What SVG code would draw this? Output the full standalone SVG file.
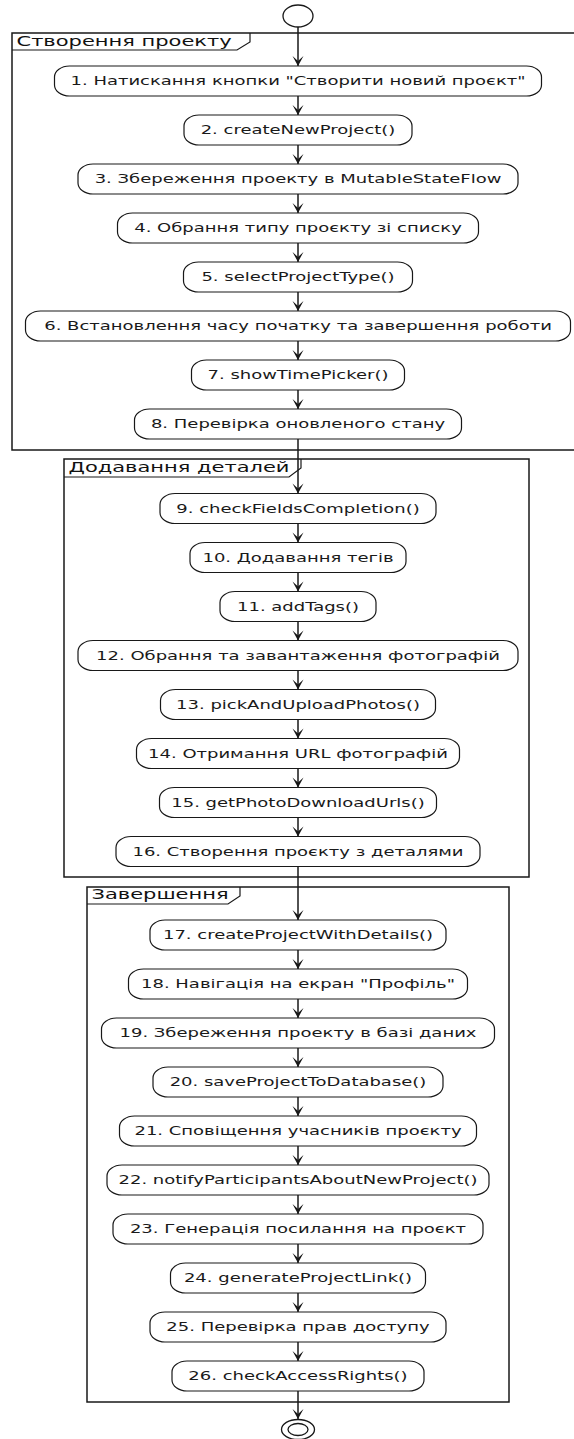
<svg xmlns="http://www.w3.org/2000/svg" width="574" height="1439" viewBox="0 0 574 1439">
  <style>
    .bg { fill: #ffffff; }
    .part { fill: none; stroke: #181818; stroke-width: 1.5; }
    .tab { fill: none; stroke: #181818; stroke-width: 1.2; }
    .ptitle { font-family: "DejaVu Sans", "Liberation Sans", sans-serif; font-size: 14px; fill: #111; }
    .act rect { fill: #ffffff; stroke: #181818; stroke-width: 1.2; }
    .act text { font-family: "DejaVu Sans", "Liberation Sans", sans-serif; font-size: 12px; fill: #1a1a1a; text-anchor: middle; }
    .flow line { stroke: #181818; stroke-width: 1.5; marker-end: url(#arrow); }
    .term { fill: #ffffff; stroke: #181818; stroke-width: 1.3; }
  </style>
  <defs>
    <marker id="arrow" markerUnits="userSpaceOnUse" viewBox="-11 -6 12 12" refX="0" refY="0" markerWidth="12" markerHeight="12" orient="auto">
      <path d="M0,0 L-10,-5.5 L-5,0 L-10,5.5 Z" fill="#181818"/>
    </marker>
  </defs>

  <rect class="bg" x="0" y="0" width="574" height="1439"/>

  <!-- partitions -->
  <g id="part-create">
    <rect class="part" x="12" y="33" width="566" height="417"/>
    <path class="tab" d="M12,50 H237 L250,42 V33"/>
    <text class="ptitle" transform="matrix(1.5 0 0 1 16.5 45.5)">Створення проекту</text>
  </g>
  <g id="part-details">
    <rect class="part" x="64" y="459" width="465" height="418"/>
    <path class="tab" d="M64,477 H289 L301,468 V459"/>
    <text class="ptitle" transform="matrix(1.5 0 0 1 68.5 472)">Додавання деталей</text>
  </g>
  <g id="part-finish">
    <rect class="part" x="87" y="887" width="422" height="515"/>
    <path class="tab" d="M87,904 H228 L240,896 V887"/>
    <text class="ptitle" transform="matrix(1.5 0 0 1 91.5 899)">Завершення</text>
  </g>

  <!-- connectors -->
  <g id="connectors" class="flow">
    <line x1="298" y1="27" x2="298" y2="66"/>
    <line x1="298" y1="96" x2="298" y2="115"/>
    <line x1="298" y1="145" x2="298" y2="164"/>
    <line x1="298" y1="194" x2="298" y2="213"/>
    <line x1="298" y1="243" x2="298" y2="262"/>
    <line x1="298" y1="292" x2="298" y2="311"/>
    <line x1="298" y1="341" x2="298" y2="360"/>
    <line x1="298" y1="390" x2="298" y2="409"/>
    <line x1="298" y1="439" x2="298" y2="493.5"/>
    <line x1="298" y1="523.5" x2="298" y2="542.5"/>
    <line x1="298" y1="572.5" x2="298" y2="591.5"/>
    <line x1="298" y1="621.5" x2="298" y2="640.5"/>
    <line x1="298" y1="670.5" x2="298" y2="689.5"/>
    <line x1="298" y1="719.5" x2="298" y2="738.5"/>
    <line x1="298" y1="768.5" x2="298" y2="787.5"/>
    <line x1="298" y1="817.5" x2="298" y2="836.5"/>
    <line x1="298" y1="866.5" x2="298" y2="920"/>
    <line x1="298" y1="950" x2="298" y2="969"/>
    <line x1="298" y1="999" x2="298" y2="1018"/>
    <line x1="298" y1="1048" x2="298" y2="1067"/>
    <line x1="298" y1="1097" x2="298" y2="1116"/>
    <line x1="298" y1="1146" x2="298" y2="1165"/>
    <line x1="298" y1="1195" x2="298" y2="1214"/>
    <line x1="298" y1="1244" x2="298" y2="1263"/>
    <line x1="298" y1="1293" x2="298" y2="1312"/>
    <line x1="298" y1="1342" x2="298" y2="1361"/>
    <line x1="298" y1="1391" x2="298" y2="1419"/>
  </g>

  <!-- start / end -->
  <g id="start">
    <ellipse class="term" cx="298" cy="16" rx="15" ry="11"/>
  </g>
  <g id="end">
    <ellipse class="term" cx="298" cy="1429.5" rx="16.5" ry="10"/>
    <ellipse class="term" cx="298" cy="1429.5" rx="10" ry="6"/>
  </g>

  <!-- activities -->
  <g id="a1" class="act"><rect x="54.5" y="66" width="487" height="30" rx="15" ry="11"/><text transform="matrix(1.5 0 0 1 298 85.4)">1. Натискання кнопки "Створити новий проєкт"</text></g>
  <g id="a2" class="act"><rect x="184" y="115" width="228" height="30" rx="15" ry="11"/><text transform="matrix(1.5 0 0 1 298 134.4)">2. createNewProject()</text></g>
  <g id="a3" class="act"><rect x="78" y="164" width="440" height="30" rx="15" ry="11"/><text transform="matrix(1.5 0 0 1 298 183.4)">3. Збереження проекту в MutableStateFlow</text></g>
  <g id="a4" class="act"><rect x="117.5" y="213" width="361" height="30" rx="15" ry="11"/><text transform="matrix(1.5 0 0 1 298 232.4)">4. Обрання типу проєкту зі списку</text></g>
  <g id="a5" class="act"><rect x="183.5" y="262" width="229" height="30" rx="15" ry="11"/><text transform="matrix(1.5 0 0 1 298 281.4)">5. selectProjectType()</text></g>
  <g id="a6" class="act"><rect x="25.5" y="311" width="545" height="30" rx="15" ry="11"/><text transform="matrix(1.5 0 0 1 298 330.4)">6. Встановлення часу початку та завершення роботи</text></g>
  <g id="a7" class="act"><rect x="191.5" y="360" width="213" height="30" rx="15" ry="11"/><text transform="matrix(1.5 0 0 1 298 379.4)">7. showTimePicker()</text></g>
  <g id="a8" class="act"><rect x="134.5" y="409" width="327" height="30" rx="15" ry="11"/><text transform="matrix(1.5 0 0 1 298 428.4)">8. Перевірка оновленого стану</text></g>

  <g id="a9" class="act"><rect x="160" y="493.5" width="276" height="30" rx="15" ry="11"/><text transform="matrix(1.5 0 0 1 298 512.9)">9. checkFieldsCompletion()</text></g>
  <g id="a10" class="act"><rect x="190" y="542.5" width="216" height="30" rx="15" ry="11"/><text transform="matrix(1.5 0 0 1 298 561.9)">10. Додавання тегів</text></g>
  <g id="a11" class="act"><rect x="220" y="591.5" width="156" height="30" rx="15" ry="11"/><text transform="matrix(1.5 0 0 1 298 610.9)">11. addTags()</text></g>
  <g id="a12" class="act"><rect x="78" y="640.5" width="440" height="30" rx="15" ry="11"/><text transform="matrix(1.5 0 0 1 298 659.9)">12. Обрання та завантаження фотографій</text></g>
  <g id="a13" class="act"><rect x="160.5" y="689.5" width="275" height="30" rx="15" ry="11"/><text transform="matrix(1.5 0 0 1 298 708.9)">13. pickAndUploadPhotos()</text></g>
  <g id="a14" class="act"><rect x="136.5" y="738.5" width="323" height="30" rx="15" ry="11"/><text transform="matrix(1.5 0 0 1 298 757.9)">14. Отримання URL фотографій</text></g>
  <g id="a15" class="act"><rect x="159.5" y="787.5" width="277" height="30" rx="15" ry="11"/><text transform="matrix(1.5 0 0 1 298 806.9)">15. getPhotoDownloadUrls()</text></g>
  <g id="a16" class="act"><rect x="116" y="836.5" width="364" height="30" rx="15" ry="11"/><text transform="matrix(1.5 0 0 1 298 855.9)">16. Створення проєкту з деталями</text></g>

  <g id="a17" class="act"><rect x="150" y="920" width="296" height="30" rx="15" ry="11"/><text transform="matrix(1.5 0 0 1 298 939.4)">17. createProjectWithDetails()</text></g>
  <g id="a18" class="act"><rect x="128.5" y="969" width="339" height="30" rx="15" ry="11"/><text transform="matrix(1.5 0 0 1 298 988.4)">18. Навігація на екран "Профіль"</text></g>
  <g id="a19" class="act"><rect x="101.5" y="1018" width="393" height="30" rx="15" ry="11"/><text transform="matrix(1.5 0 0 1 298 1037.4)">19. Збереження проекту в базі даних</text></g>
  <g id="a20" class="act"><rect x="153" y="1067" width="290" height="30" rx="15" ry="11"/><text transform="matrix(1.5 0 0 1 298 1086.4)">20. saveProjectToDatabase()</text></g>
  <g id="a21" class="act"><rect x="119.5" y="1116" width="357" height="30" rx="15" ry="11"/><text transform="matrix(1.5 0 0 1 298 1135.4)">21. Сповіщення учасників проєкту</text></g>
  <g id="a22" class="act"><rect x="107" y="1165" width="382" height="30" rx="15" ry="11"/><text transform="matrix(1.5 0 0 1 298 1184.4)">22. notifyParticipantsAboutNewProject()</text></g>
  <g id="a23" class="act"><rect x="113" y="1214" width="370" height="30" rx="15" ry="11"/><text transform="matrix(1.5 0 0 1 298 1233.4)">23. Генерація посилання на проєкт</text></g>
  <g id="a24" class="act"><rect x="170.5" y="1263" width="255" height="30" rx="15" ry="11"/><text transform="matrix(1.5 0 0 1 298 1282.4)">24. generateProjectLink()</text></g>
  <g id="a25" class="act"><rect x="150" y="1312" width="296" height="30" rx="15" ry="11"/><text transform="matrix(1.5 0 0 1 298 1331.4)">25. Перевірка прав доступу</text></g>
  <g id="a26" class="act"><rect x="172" y="1361" width="252" height="30" rx="15" ry="11"/><text transform="matrix(1.5 0 0 1 298 1380.4)">26. checkAccessRights()</text></g>
</svg>
